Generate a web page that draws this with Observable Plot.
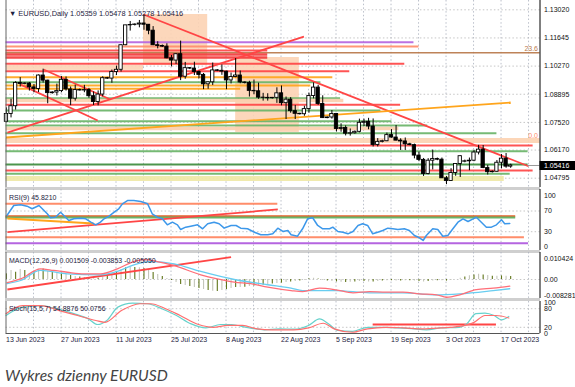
<!DOCTYPE html>
<html><head><meta charset="utf-8">
<script src="https://cdn.jsdelivr.net/npm/d3@7"></script>
<script src="https://cdn.jsdelivr.net/npm/@observablehq/plot@0.6"></script>
<style>
body{margin:0;background:#fff;}
#wrap{position:relative;width:575px;height:387px;overflow:hidden;background:#fff;}
.sep{position:absolute;left:5px;width:535px;height:3px;background:#cfcfcf;}
#caption{position:absolute;left:5px;top:366px;font:italic 400 15.6px Lato,"Open Sans",sans-serif;color:#444;white-space:nowrap;}
</style></head><body><div id="wrap"></div><script>
// ---------- DATA ----------
const dateLabels = ["13 Jun 2023","27 Jun 2023","11 Jul 2023","25 Jul 2023","8 Aug 2023","22 Aug 2023","5 Sep 2023","19 Sep 2023","3 Oct 2023","17 Oct 2023"];
const dateBars = [0,12,24,36,48,60,72,84,96,108];
const priceTicks = [1.13020,1.11645,1.10270,1.08895,1.07520,1.06170,1.04795];
const priceTickLabels = ["1.13020","1.11645","1.10270","1.08895","1.07520","1.06170","1.04795"];
const lastPrice = 1.05416;
const headerText = "\u25BC EURUSD,Daily 1.05359 1.05478 1.05278 1.05416";

const opens = [1.0755,1.0793,1.0831,1.0945,1.0940,1.0942,1.0923,1.0915,1.0981,1.0956,
1.0895,1.0898,1.0905,1.0960,1.0913,1.0868,1.0910,1.0908,1.0910,1.0880,
1.0852,1.0888,1.0968,1.0966,1.0998,1.1009,1.1129,1.1226,1.1228,1.1230,
1.1235,1.1229,1.1200,1.1129,1.1125,1.1122,1.1065,1.1054,1.1085,1.0975,
1.1017,1.1015,1.0998,1.0984,1.0938,1.0948,1.1006,1.1004,1.1000,1.0957,
1.0974,1.0981,1.0947,1.0945,1.0906,1.0904,1.0873,1.0872,1.0870,1.0872,
1.0894,1.0846,1.0863,1.0807,1.0794,1.0792,1.0817,1.0881,1.0922,1.0842,
1.0773,1.0776,1.0793,1.0720,1.0725,1.0697,1.0699,1.0706,1.0750,1.0755,
1.0732,1.0642,1.0657,1.0660,1.0690,1.0678,1.0663,1.0659,1.0645,1.0641,
1.0590,1.0569,1.0500,1.0565,1.0573,1.0570,1.0479,1.0466,1.0505,1.0549,
1.0560,1.0562,1.0565,1.0605,1.0619,1.0529,1.0509,1.0511,1.0555,1.0575,
1.05359];
const highs = [1.0823,1.0865,1.0951,1.0971,1.0945,1.0947,1.0937,1.0984,1.1012,1.0958,
1.0902,1.0939,1.0976,1.0974,1.0925,1.0934,1.0915,1.0933,1.0918,1.0901,
1.0906,1.0975,1.0972,1.1008,1.1027,1.1130,1.1226,1.1245,1.1233,1.1250,
1.1276,1.1230,1.1220,1.1146,1.1130,1.1136,1.1079,1.1088,1.1149,1.1045,
1.1020,1.1046,1.1004,1.0991,1.0949,1.1042,1.1010,1.1033,1.1002,1.0993,
1.1064,1.1003,1.0950,1.0953,1.0959,1.0944,1.0894,1.0892,1.0874,1.0921,
1.0930,1.0876,1.0873,1.0835,1.0797,1.0831,1.0895,1.0945,1.0933,1.0882,
1.0778,1.0810,1.0795,1.0745,1.0735,1.0720,1.0710,1.0768,1.0768,1.0772,
1.0769,1.0673,1.0665,1.0700,1.0717,1.0737,1.0672,1.0676,1.0650,1.0646,
1.0607,1.0576,1.0575,1.0617,1.0578,1.0578,1.0488,1.0526,1.0550,1.0588,
1.0568,1.0578,1.0616,1.0640,1.0639,1.0542,1.0515,1.0566,1.0595,1.0600,
1.05478];
const lows = [1.0751,1.0774,1.0812,1.0925,1.0936,1.0905,1.0897,1.0898,1.0944,1.0843,
1.0890,1.0881,1.0897,1.0905,1.0834,1.0856,1.0905,1.0897,1.0870,1.0835,
1.0833,1.0877,1.0962,1.0943,1.0981,1.0998,1.1127,1.1198,1.1223,1.1214,
1.1202,1.1180,1.1127,1.1111,1.1118,1.1063,1.1023,1.1035,1.0956,1.0963,
1.1010,1.0981,1.0965,1.0912,1.0914,1.0932,1.1000,1.0982,1.0912,1.0940,
1.0970,1.0941,1.0940,1.0876,1.0887,1.0865,1.0856,1.0856,1.0866,1.0845,
1.0833,1.0766,1.0797,1.0766,1.0788,1.0782,1.0797,1.0867,1.0835,1.0771,
1.0770,1.0768,1.0705,1.0704,1.0686,1.0685,1.0695,1.0701,1.0732,1.0716,
1.0632,1.0632,1.0652,1.0658,1.0675,1.0662,1.0615,1.0615,1.0638,1.0574,
1.0560,1.0488,1.0496,1.0520,1.0565,1.0479,1.0448,1.0465,1.0489,1.0483,
1.0555,1.0516,1.0560,1.0593,1.0526,1.0495,1.0505,1.0508,1.0525,1.0528,
1.05278];
const closes = [1.0793,1.0831,1.0945,1.0940,1.0942,1.0923,1.0915,1.0981,1.0956,1.0895,
1.0898,1.0905,1.0960,1.0913,1.0868,1.0910,1.0908,1.0910,1.0880,1.0852,
1.0888,1.0968,1.0966,1.0998,1.1009,1.1129,1.1226,1.1228,1.1230,1.1235,
1.1229,1.1200,1.1129,1.1125,1.1122,1.1065,1.1054,1.1085,1.0975,1.1017,
1.1015,1.0998,1.0984,1.0938,1.0948,1.1006,1.1004,1.1000,1.0957,1.0974,
1.0981,1.0947,1.0945,1.0906,1.0904,1.0873,1.0872,1.0870,1.0872,1.0894,
1.0846,1.0863,1.0807,1.0794,1.0792,1.0817,1.0881,1.0922,1.0842,1.0773,
1.0776,1.0793,1.0720,1.0725,1.0697,1.0699,1.0706,1.0750,1.0755,1.0732,
1.0642,1.0657,1.0660,1.0690,1.0678,1.0663,1.0659,1.0645,1.0641,1.0590,
1.0569,1.0500,1.0565,1.0573,1.0570,1.0479,1.0466,1.0505,1.0549,1.0587,
1.0562,1.0565,1.0605,1.0619,1.0529,1.0509,1.0511,1.0555,1.0575,1.0536,
1.05416];

// horizontal levels drawn on the price chart: [price, last bar, kind]
const levels = [
 [1.11437,88.9,"purple"],[1.11227,90.0,"salmon"],[1.11032,57.0,"red"],[1.10920,116.4,"brown"],
 [1.10836,57.0,"redthick"],[1.10690,57.0,"redthick"],[1.10382,86.9,"red"],[1.10021,74.9,"red"],
 [1.09727,71.2,"orange"],[1.09483,68.6,"green"],[1.09322,66.4,"orange"],[1.09161,51.1,"orange"],
 [1.08702,72.9,"green"],[1.08589,73.6,"peach"],[1.08379,86.0,"red"],[1.08101,81.7,"green"],
 [1.07578,84.1,"green"],[1.07368,91.9,"green"],[1.07221,85.6,"peach"],[1.06992,107.0,"green"],
 [1.06635,116.4,"peachband"],[1.06391,114.9,"red"],[1.06112,113.8,"green"],[1.05462,113.8,"darkgreen"],
 [1.05169,114.9,"red"],[1.05008,109.9,"green"],[1.04778,108.6,"yellow"]
];
// shaded zones: [bar from, bar to, price top, price bottom]
const zones = [[29.9,43.9,1.1279,1.1030],[50.0,63.9,1.1069,1.0703],[-0.1,29.9,1.1030,1.1006]];
// trend lines: [bar1, price1, bar2, price2, kind]
const trendLines = [
 [29.9,1.1279,113.9,1.0538,"red"],[0.2,1.07026,64.9,1.11715,"red"],
 [8.1,1.10104,22.7,1.08638,"red"],[3.1,1.09367,19.9,1.07612,"red"],
 [-0.1,1.06782,110.0,1.08492,"orange"]
];
const fibLabels = [[1.10920,"23.6","brown"],[1.06635,"0.0","salmon"]];

// RSI(9)
const rsiLabel = "RSI(9) 45.8210";
const rsiTicks = [100,70,30,0];
const rsiBars = [0.1,1.6,3.1,4.5,5.6,7.1,8.2,8.9,9.6,10.7,11.8,12.9,13.6,14.7,16.2,17.3,18.4,19.5,20.5,21.3,22.4,23.5,24.5,25.3,26.4,27.8,29.3,30.8,31.8,32.9,34,35.1,36.2,37.3,38,39.1,40.2,41.7,42.8,43.9,45.3,46.4,47.5,49,50.1,51.1,52.6,54.1,55.5,57,58.1,59.2,60.3,61.4,62.1,63.5,64.6,65.7,66.8,67.9,69,70.5,71.2,72.3,73.4,74.5,75.6,76.7,77.7,78.8,79.9,81,82.1,83.2,84.3,85.4,86.8,87.9,89,90.1,90.9,91.6,93,94.1,95.2,96.3,97.4,98.5,99.6,100.7,101.8,102.5,103.6,104.7,105.8,106.9,108,108.7,109.8];
const rsiValues = [61.3,80.7,82,79.4,74.3,80.7,71,64.6,56.9,58,67.7,58,51.6,54.9,56.1,54.9,48.4,43.3,48.4,54.9,60,67.7,74.3,83.9,90.3,90.3,88.4,83.9,64.6,58,54.9,43.3,48.4,43.3,34.2,38.7,40.6,43.3,35.6,45.3,48.4,45.3,36.8,42,42,36.8,35.6,29,24,24,25.9,36.8,30.4,32.3,24,21.3,35.6,54.9,56.9,42,35.6,35.6,38.7,30.4,29,25.9,30.4,42,45.3,42,25.9,29,32.3,36.8,35.6,34.2,35.6,32.3,22.6,18.2,13,22.6,35.6,34.2,21.3,22.6,35.6,48.4,54.9,49.7,54.9,58,48.4,38.7,38.7,43.3,53,45.3,45.8];
const rsiLevels = [[84,59.2,"salmon"],[60,111.1,"orangered"],[57.4,111.1,"green"],[19.3,113.0,"salmon"],[7.7,113.9,"purple"]];
const rsiTrends = [[0.2,29,59.2,73,"red"],[0.2,55.5,19,45.8,"orange"]];

// MACD(12,26,9)
const macdLabel = "MACD(12,26,9) 0.001509 -0.003853 -0.005050";
const macdTicks = [0.010424,0,-0.008281];
const macdTickLabels = ["0.010424","0.00","-0.008281"];
const macdHist = [0.0028,0.0045,0.0036,0.0050,0.0045,0.0030,0.0040,0.0050,0.0052,0.0040,
0.0035,0.0030,0.0032,0.0025,0.0020,0.0015,0.0012,0.0010,0.0005,0.0003,
0.0006,0.0012,0.0020,0.0030,0.0040,0.0050,0.0058,0.0062,0.0060,0.0058,
0.0055,0.0045,0.0035,0.0025,0.0015,0.0005,-0.0005,-0.0015,-0.0025,-0.0030,
-0.0035,-0.0040,-0.0045,-0.0050,-0.0055,-0.0058,-0.0060,-0.0055,-0.0050,-0.0045,
-0.0040,-0.0040,-0.0038,-0.0035,-0.0032,-0.0030,-0.0028,-0.0025,-0.0022,-0.0020,
-0.0018,-0.0015,-0.0012,-0.0010,-0.0008,-0.0004,0.0004,0.0006,0.0002,-0.0005,
-0.0008,-0.0010,-0.0012,-0.0014,-0.0015,-0.0014,-0.0012,-0.0010,-0.0010,-0.0012,
-0.0012,-0.0010,-0.0008,-0.0006,-0.0006,-0.0008,-0.0008,-0.0006,-0.0006,-0.0008,
-0.0010,-0.0012,-0.0010,-0.0008,-0.0006,-0.0006,-0.0008,-0.0004,0.0000,0.0006,
0.0012,0.0018,0.0022,0.0026,0.0022,0.0020,0.0016,0.0016,0.0018,0.0016,
0.0015];
const macdBars = [0.15,3.1,7.4,10.3,13.3,16.9,20.5,24.2,27.8,30,32.9,36.6,42.4,46,49.7,53.3,57,62.1,64.6,68.3,71.9,75.6,79.2,82.8,86.5,90.1,93.8,96,98.9,102.5,106.2,109.8];
const macdValues = [-0.0015,0.0003,0.0053,0.0045,0.0036,0.0028,0.0028,0.0053,0.0089,0.0099,0.0089,0.0069,0.0023,0.0003,-0.0013,-0.0021,-0.0038,-0.0055,-0.006,-0.0043,-0.0051,-0.0066,-0.006,-0.0063,-0.0063,-0.0071,-0.0076,-0.0088,-0.0076,-0.005,-0.0043,-0.0033];
const signalBars = [0.15,3.1,7.4,13.3,20.5,24.2,27.8,31.5,36.6,42.4,49.7,57,62.1,64.6,71.9,79.2,86.5,93.8,98.9,106.2,109.8];
const signalValues = [-0.002,-0.0005,0.0045,0.0028,0.0023,0.004,0.0073,0.0089,0.0078,0.004,0,-0.0026,-0.0043,-0.0055,-0.0055,-0.0066,-0.0066,-0.0076,-0.0071,-0.0055,-0.0046];
const macdTrends = [[0.2,-0.00496,49,0.01107,"red"]];

// Stochastic(15,5,7)
const stochLabel = "Stoch(15,5,7) 54.8876 50.0756";
const stochTicks = [100,80,20,0];
const stochBars = [-0.1,3.5,7.5,10.7,14.7,17.9,19.9,21.9,24.3,27.5,30.7,33.9,37.1,40.3,43.5,46.7,49.1,52.3,56.3,59.5,62.7,65.9,68.3,70.3,72.3,75.5,78.8,82,85.2,88.4,91.6,94.8,98.8,100.4,102.4,104.4,106.4,108,109.6];
const stochMain = [58,85,90,80,64,47,29,42,85,98,96,80,58,31,18,29,29,20,12,15,14,26,47,31,10,7,20,20,18,16,12,18,20,31,64,66,58,44,54.9];
const stochSigBars = [-0.1,3.5,7.5,11.5,15.5,19.5,21.5,25.1,29.1,31.5,34.7,37.9,41.9,45.1,48.3,51.5,54.7,57.9,62.7,65.9,69.1,71.5,75.5,78.8,82.8,86.8,90.8,94.8,98.8,102,104.4,106.8,109.6];
const stochSignal = [64,90,90,74,58,42,36,74,96,96,80,58,29,20,26,26,15,12,12,18,33,15,4,15,20,18,15,18,23,36,58,58,50.1];
const stochLevels = [[29,80,106.9,"red"]];

// ---------- STYLE ----------
const palette = {red:"#ff4545",redthick:"#f43c3c",salmon:"#ff8d6a",brown:"#b8784a",purple:"#b565e0",orange:"#ffa51c",
  green:"#6ab468",darkgreen:"#3d8c3d",peach:"#fbcfae",peachband:"#fcd2b2",yellow:"#efe8a6",orangered:"#e4602a"};
const widths = {red:2,redthick:2.6,salmon:2,brown:1.5,purple:2,orange:2,green:2,darkgreen:2,peach:3.5,peachband:5,yellow:5,orangered:2};
const FONT = "'Liberation Sans', Arial, sans-serif";
const X_DOMAIN = [-0.1, 116.4], X_RANGE = [5.5, 539.5];
const gridBars = d3.range(1, 20).map(k => 6 * k - 0.1);
const grid = () => Plot.ruleX(gridBars, {stroke: "#aab0bc", strokeWidth: 0.8, strokeDasharray: "1.5,2.2"});
const edges = () => [Plot.ruleX([X_DOMAIN[0]], {stroke: "#666", strokeWidth: 1}), Plot.ruleX([X_DOMAIN[1]], {stroke: "#000", strokeWidth: 1})];
const wrap = document.getElementById("wrap");

function panel(top, height, y, marks, marginBottom = 0) {
  const svg = Plot.plot({
    width: 575, height, marginLeft: 5.5, marginRight: 35.5, marginTop: 0, marginBottom,
    x: {domain: X_DOMAIN, range: X_RANGE, axis: null},
    y: {...y, axis: null},
    color: {type: "identity"},
    style: {background: "transparent", overflow: "visible", fontFamily: FONT, fontSize: "7px"},
    marks
  });
  svg.style.position = "absolute"; svg.style.left = "0px"; svg.style.top = top + "px";
  wrap.appendChild(svg);
}
function sep(top) { const d = document.createElement("div"); d.className = "sep"; d.style.top = top + "px"; wrap.appendChild(d); }

// ---------- PRICE PANEL ----------
const bars = opens.map((o, i) => ({i, o, h: highs[i], l: lows[i], c: closes[i]}));
panel(0, 187, {domain: [1.04795, 1.13020], range: [177.7, 9.3]}, [
  grid(),
  Plot.ruleY(priceTicks, {stroke: "#b8b8b8", strokeWidth: 0.8, strokeDasharray: "1.5,2.2"}),
  Plot.rect(zones, {x1: d => d[0], x2: d => d[1], y1: d => d[3], y2: d => d[2], fill: "#fcd3b4", fillOpacity: 0.9}),
  Plot.ruleY(levels, {y: d => d[0], x1: X_DOMAIN[0], x2: d => d[1], stroke: d => palette[d[2]], strokeWidth: d => widths[d[2]], strokeOpacity: 0.92}),
  Plot.link(trendLines, {x1: d => d[0], y1: d => d[1], x2: d => d[2], y2: d => d[3], stroke: d => palette[d[4]], strokeWidth: 1.8}),
  Plot.ruleX(bars, {x: "i", y1: "l", y2: "h", stroke: "#000", strokeWidth: 1}),
  Plot.rect(bars, {x1: d => d.i - 0.36, x2: d => d.i + 0.36, y1: d => Math.min(d.o, d.c), y2: d => Math.max(d.o, d.c),
    fill: d => d.c >= d.o ? "#fff" : "#000", stroke: "#000", strokeWidth: 0.9}),
  Plot.ruleY([lastPrice], {x1: 113.8, x2: X_DOMAIN[1], stroke: "#999", strokeWidth: 1}),
  ...edges(),
  Plot.text(fibLabels, {x: X_DOMAIN[1], y: d => d[0], text: d => d[1], fill: d => palette[d[2]], dx: -2, dy: -4.5, textAnchor: "end"}),
  Plot.text(priceTicks, {x: X_DOMAIN[1], y: d => d, text: (d, i) => priceTickLabels[i], dx: 4, textAnchor: "start", fill: "#111"}),
  Plot.ruleY([lastPrice], {x1: X_DOMAIN[1], x2: 124.5, stroke: "#000", strokeWidth: 9}),
  Plot.text([lastPrice], {x: X_DOMAIN[1], y: d => d, text: d => d.toFixed(5), dx: 4, textAnchor: "start", fill: "#fff"}),
  Plot.text([headerText], {frameAnchor: "top-left", dx: 3, dy: 10, textAnchor: "start", fill: "#1d2140", fontSize: 7.4})
]);
sep(186.5);

// ---------- RSI PANEL ----------
panel(189, 61, {domain: [0, 100], range: [57.7, 6]}, [
  grid(),
  Plot.ruleY([70, 30], {stroke: "#b8b8b8", strokeWidth: 0.8, strokeDasharray: "1.5,2.2"}),
  Plot.ruleY(rsiLevels, {y: d => d[0], x1: X_DOMAIN[0], x2: d => d[1], stroke: d => palette[d[2]], strokeWidth: 2}),
  Plot.link(rsiTrends, {x1: d => d[0], y1: d => d[1], x2: d => d[2], y2: d => d[3], stroke: d => palette[d[4]], strokeWidth: 1.8}),
  Plot.line(rsiBars.map((b, i) => [b, rsiValues[i]]), {x: d => d[0], y: d => d[1], stroke: "#3d98ea", strokeWidth: 1.5}),
  ...edges(),
  Plot.text(rsiTicks, {x: X_DOMAIN[1], y: d => d, text: d => String(d), dx: 4, textAnchor: "start", fill: "#111"}),
  Plot.text([rsiLabel], {frameAnchor: "top-left", dx: 3, dy: 6, textAnchor: "start", fill: "#1d2140"})
]);
sep(249.5);

// ---------- MACD PANEL ----------
panel(252, 46, {domain: [-0.01, 0.01], range: [47.15, 6.85]}, [
  grid(),
  Plot.ruleY([0], {stroke: "#b8b8b8", strokeWidth: 0.8, strokeDasharray: "1.5,2.2"}),
  Plot.ruleX(macdHist, {x: (d, i) => i, y1: 0, y2: d => d, strokeWidth: 1.1,
    stroke: (d, i) => (i % 2 === 0) ? "#5f7418" : "#c4c6ba"}),
  Plot.link(macdTrends, {x1: d => d[0], y1: d => d[1], x2: d => d[2], y2: d => d[3], stroke: d => palette[d[4]], strokeWidth: 1.8}),
  Plot.line(signalBars.map((b, i) => [b, signalValues[i]]), {x: d => d[0], y: d => d[1], stroke: "#68cdf0", strokeWidth: 1.3, curve: "monotone-x"}),
  Plot.line(macdBars.map((b, i) => [b, macdValues[i]]), {x: d => d[0], y: d => d[1], stroke: "#ff6e78", strokeWidth: 1.3, curve: "monotone-x"}),
  ...edges(),
  Plot.text(macdTicks, {x: X_DOMAIN[1], y: d => d, text: (d, i) => macdTickLabels[i], dx: 4, textAnchor: "start", fill: "#111"}),
  Plot.text([macdLabel], {frameAnchor: "top-left", dx: 3, dy: 6, textAnchor: "start", fill: "#1d2140"})
]);
sep(298);

// ---------- STOCHASTIC PANEL ----------
panel(301, 48, {domain: [0, 100], range: [32, 1]}, [
  grid(),
  Plot.ruleY([80, 20], {stroke: "#b8b8b8", strokeWidth: 0.8, strokeDasharray: "1.5,2.2"}),
  Plot.ruleY(stochLevels, {y: d => d[0], x1: d => d[1], x2: d => d[2], stroke: d => palette[d[3]], strokeWidth: 2}),
  Plot.line(stochBars.map((b, i) => [b, stochMain[i]]), {x: d => d[0], y: d => d[1], stroke: "#67d2cc", strokeWidth: 1.2, curve: "monotone-x"}),
  Plot.line(stochSigBars.map((b, i) => [b, stochSignal[i]]), {x: d => d[0], y: d => d[1], stroke: "#ff6f6f", strokeWidth: 1.2, curve: "monotone-x"}),
  Plot.ruleY([0], {stroke: "#555", strokeWidth: 1}),
  ...edges(),
  Plot.text(stochTicks, {x: X_DOMAIN[1], y: d => d, text: d => String(d), dx: 4, textAnchor: "start", fill: "#111"}),
  Plot.text([stochLabel], {frameAnchor: "top-left", dx: 3, dy: 5, textAnchor: "start", fill: "#1d2140"}),
  Plot.text(dateBars, {x: d => d - 0.1, text: (d, i) => dateLabels[i], frameAnchor: "bottom", dy: 8, textAnchor: "start", fill: "#1d2140"})
], 16);

const cap = document.createElement("div");
cap.id = "caption"; cap.textContent = "Wykres dzienny EURUSD";
wrap.appendChild(cap);
</script></body></html>
